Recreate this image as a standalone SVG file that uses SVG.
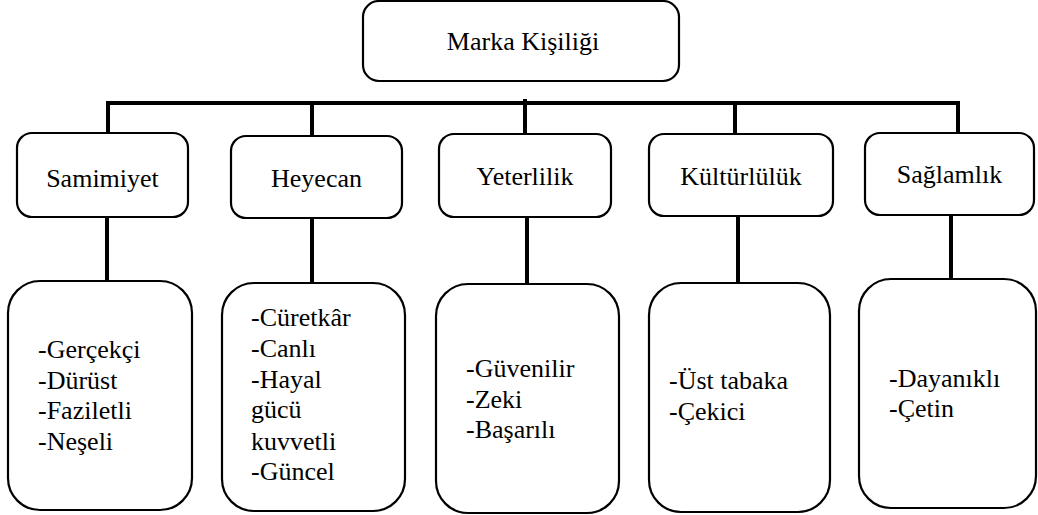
<svg xmlns="http://www.w3.org/2000/svg" width="1038" height="515" viewBox="0 0 1038 515">
  <style>
    .box { fill: #ffffff; stroke: #000000; stroke-width: 2.2; }
    .wire { stroke: #000000; stroke-width: 4; fill: none; stroke-linecap: butt; }
    .t { font-family: Liberation Serif, serif; font-size: 26px; fill: #000000; }
    .c { text-anchor: middle; }
  </style>
  <rect width="1038" height="515" fill="#ffffff"/>

  <!-- connectors -->
  <g id="connectors">
    <line class="wire" x1="106" y1="103" x2="960" y2="103"/>
    <line class="wire" x1="108" y1="101" x2="108" y2="134"/>
    <line class="wire" x1="312" y1="101" x2="312" y2="137"/>
    <line class="wire" x1="525" y1="99" x2="525" y2="135"/>
    <line class="wire" x1="735" y1="101" x2="735" y2="135"/>
    <line class="wire" x1="958" y1="101" x2="958" y2="134"/>
    <line class="wire" x1="107" y1="217" x2="107" y2="282"/>
    <line class="wire" x1="312" y1="218" x2="312" y2="284"/>
    <line class="wire" x1="527" y1="217" x2="527" y2="285"/>
    <line class="wire" x1="738" y1="216" x2="738" y2="284"/>
    <line class="wire" x1="951" y1="215" x2="951" y2="280"/>
  </g>

  <!-- root -->
  <g id="marka-kisiligi">
    <rect class="box" x="363" y="1" width="316" height="80" rx="16"/>
    <text class="t c" x="523" y="50">Marka Kişiliği</text>
  </g>

  <!-- dimensions -->
  <g id="samimiyet">
    <rect class="box" x="17" y="133" width="171" height="84" rx="15"/>
    <text class="t c" x="102.5" y="187">Samimiyet</text>
  </g>
  <g id="heyecan">
    <rect class="box" x="231" y="136" width="171" height="82" rx="15"/>
    <text class="t c" x="316.5" y="187">Heyecan</text>
  </g>
  <g id="yeterlilik">
    <rect class="box" x="439" y="134" width="172" height="83" rx="15"/>
    <text class="t c" x="525" y="185">Yeterlilik</text>
  </g>
  <g id="kulturluluk">
    <rect class="box" x="649" y="134" width="184" height="82" rx="15"/>
    <text class="t c" x="741" y="185">Kültürlülük</text>
  </g>
  <g id="saglamlik">
    <rect class="box" x="865" y="133" width="169" height="82" rx="15"/>
    <text class="t c" x="949.5" y="183">Sağlamlık</text>
  </g>

  <!-- traits -->
  <g id="samimiyet-traits">
    <rect class="box" x="8" y="281" width="184" height="229" rx="32"/>
    <text class="t" x="38" y="358">-Gerçekçi</text>
    <text class="t" x="38" y="389">-Dürüst</text>
    <text class="t" x="38" y="419">-Faziletli</text>
    <text class="t" x="38" y="450">-Neşeli</text>
  </g>
  <g id="heyecan-traits">
    <rect class="box" x="222" y="283" width="183" height="228" rx="32"/>
    <text class="t" x="251" y="326">-Cüretkâr</text>
    <text class="t" x="251" y="357">-Canlı</text>
    <text class="t" x="251" y="388">-Hayal</text>
    <text class="t" x="251" y="418">gücü</text>
    <text class="t" x="251" y="450">kuvvetli</text>
    <text class="t" x="251" y="480">-Güncel</text>
  </g>
  <g id="yeterlilik-traits">
    <rect class="box" x="436" y="284" width="183" height="229" rx="32"/>
    <text class="t" x="466" y="377">-Güvenilir</text>
    <text class="t" x="466" y="408">-Zeki</text>
    <text class="t" x="466" y="438">-Başarılı</text>
  </g>
  <g id="kulturluluk-traits">
    <rect class="box" x="649" y="283" width="181" height="229" rx="32"/>
    <text class="t" x="669" y="389">-Üst tabaka</text>
    <text class="t" x="669" y="420">-Çekici</text>
  </g>
  <g id="saglamlik-traits">
    <rect class="box" x="859" y="279" width="177" height="229" rx="32"/>
    <text class="t" x="889" y="387">-Dayanıklı</text>
    <text class="t" x="889" y="417">-Çetin</text>
  </g>
</svg>
